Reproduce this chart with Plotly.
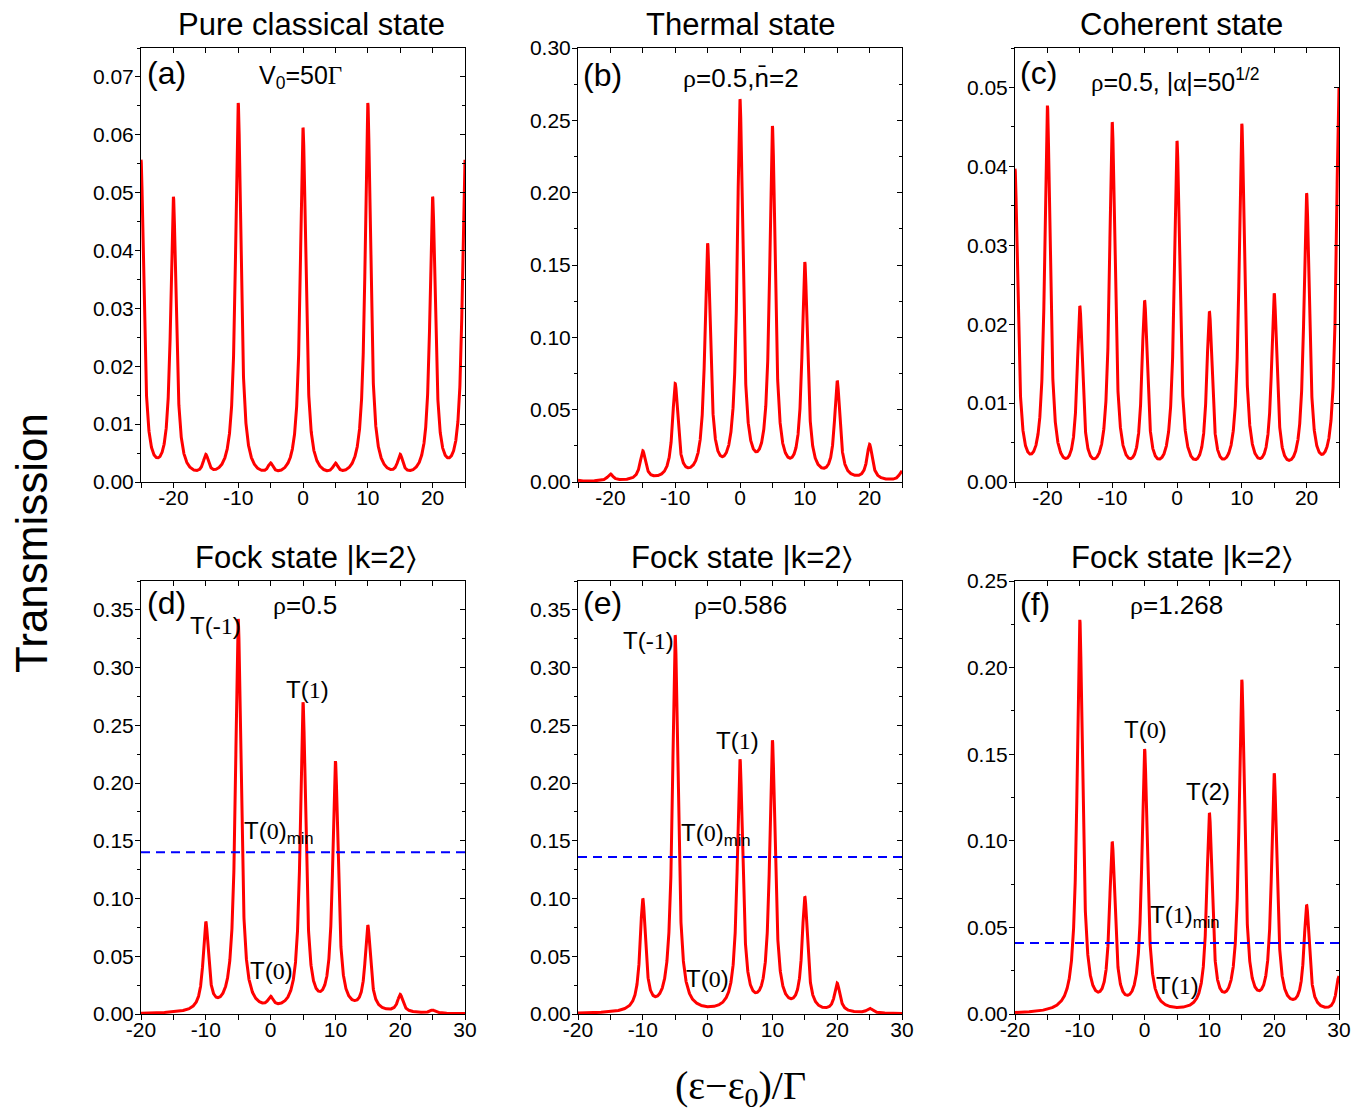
import numpy as np
import plotly.graph_objects as go

OFF = 8                      # browser body margin
W, H = 1371 - 2 * OFF, 1119 - 2 * OFF
HW = 0.5  # Lorentzian half width (in units of Gamma)

# ---------------- data (peak positions and observed peak heights) -------------
a_pos = [-25, -20, -15, -10, -5, 0, 5, 10, 15, 20, 25]
a_height = [0.0557, 0.0493, 0.0048, 0.0655, 0.0033, 0.0612, 0.0033, 0.0655, 0.0048, 0.0493, 0.0557]

b_pos = [-25, -20, -15, -10, -5, 0, 5, 10, 15, 20, 25]
b_height = [0.0013, 0.0056, 0.0216, 0.068, 0.165, 0.2645, 0.246, 0.152, 0.070, 0.026, 0.0077]

c_pos = [-25, -20, -15, -10, -5, 0, 5, 10, 15, 20, 25]
c_height = [0.0397, 0.0477, 0.0223, 0.0456, 0.0230, 0.0432, 0.0216, 0.0454, 0.0239, 0.0366, 0.0500]

d_pos = [-10, -5, 0, 5, 10, 15, 20, 25]
d_height = [0.080, 0.342, 0.0155, 0.270, 0.219, 0.077, 0.017, 0.0035]
d_dash = 0.140

e_pos = [-10, -5, 5, 10, 15, 20, 25]
e_height = [0.100, 0.328, 0.2207, 0.237, 0.1017, 0.0267, 0.005]
e_dash = 0.136

f_pos = [-10, -5, 0, 10, 15, 20, 25, 30]
f_height = [0.2276, 0.0994, 0.153, 0.116, 0.193, 0.139, 0.063, 0.022]
f_dash = 0.041

top_xticks = [-20, -10, 0, 10, 20]
bot_xticks = [-20, -10, 0, 10, 20, 30]
a_yticks = [0.00, 0.01, 0.02, 0.03, 0.04, 0.05, 0.06, 0.07]
b_yticks = [0.00, 0.05, 0.10, 0.15, 0.20, 0.25, 0.30]
c_yticks = [0.00, 0.01, 0.02, 0.03, 0.04, 0.05]
de_yticks = [0.00, 0.05, 0.10, 0.15, 0.20, 0.25, 0.30, 0.35]
f_yticks = [0.00, 0.05, 0.10, 0.15, 0.20, 0.25]

titles = ["Pure classical state", "Thermal state", "Coherent state",
          "Fock state |k=2\u232a", "Fock state |k=2\u232a", "Fock state |k=2\u232a"]

# ---------------- layout geometry (pixels in the screenshot) ----------------
cols = [(141, 465), (578, 902), (1015, 1339)]
rows = [(48, 482), (581, 1014)]

def px(x):
    return (x - OFF) / W

def py(y):
    return 1 - (y - OFF) / H

panels = [
    dict(pos=a_pos, h=a_height, xr=[-25, 25], yr=[0, 0.075], xt=top_xticks, yt=a_yticks, ystep=0.01, dash=None, r=0, c=0),
    dict(pos=b_pos, h=b_height, xr=[-25, 25], yr=[0, 0.30], xt=top_xticks, yt=b_yticks, ystep=0.05, dash=None, r=0, c=1),
    dict(pos=c_pos, h=c_height, xr=[-25, 25], yr=[0, 0.055], xt=top_xticks, yt=c_yticks, ystep=0.01, dash=None, r=0, c=2),
    dict(pos=d_pos, h=d_height, xr=[-20, 30], yr=[0, 0.375], xt=bot_xticks, yt=de_yticks, ystep=0.05, dash=d_dash, r=1, c=0),
    dict(pos=e_pos, h=e_height, xr=[-20, 30], yr=[0, 0.375], xt=bot_xticks, yt=de_yticks, ystep=0.05, dash=e_dash, r=1, c=1),
    dict(pos=f_pos, h=f_height, xr=[-20, 30], yr=[0, 0.25], xt=bot_xticks, yt=f_yticks, ystep=0.05, dash=f_dash, r=1, c=2),
]

def lor(d):
    return HW ** 2 / (d ** 2 + HW ** 2)

fig = go.Figure()
layout = {}
SANS = "Liberation Sans, Arial, sans-serif"
SERIF = "Liberation Serif, Times New Roman, serif"
tickfont = dict(family=SANS, size=21, color="black")

for i, p in enumerate(panels):
    n = i + 1
    sx = "" if n == 1 else str(n)
    m = n + 6
    pos = np.array(p["pos"], float)
    M = lor(pos[:, None] - pos[None, :])
    amps = np.linalg.solve(M, np.array(p["h"], float))
    xs = np.linspace(p["xr"][0], p["xr"][1], 4001)
    ys = (amps[None, :] * lor(xs[:, None] - pos[None, :])).sum(axis=1)
    fig.add_trace(go.Scatter(x=xs, y=ys, mode="lines", line=dict(color="#ff0000", width=3),
                             xaxis="x" + sx, yaxis="y" + sx, showlegend=False, hoverinfo="skip"))
    if p["dash"] is not None:
        fig.add_trace(go.Scatter(x=p["xr"], y=[p["dash"], p["dash"]], mode="lines",
                                 line=dict(color="#0000ff", width=2, dash="9px,6px"),
                                 xaxis="x" + sx, yaxis="y" + sx, showlegend=False, hoverinfo="skip"))
    # placeholder traces so the mirrored axes get drawn
    fig.add_trace(go.Scatter(x=[None], y=[None], mode="lines", xaxis="x%d" % m, yaxis="y" + sx,
                             showlegend=False, hoverinfo="skip"))
    fig.add_trace(go.Scatter(x=[None], y=[None], mode="lines", xaxis="x" + sx, yaxis="y%d" % m,
                             showlegend=False, hoverinfo="skip"))
    c0, c1 = cols[p["c"]]
    r0, r1 = rows[p["r"]]
    xdom = [px(c0), px(c1)]
    ydom = [py(r1), py(r0)]
    layout["xaxis" + sx] = dict(domain=xdom, anchor="y" + sx, range=p["xr"], tickvals=p["xt"],
                                ticktext=[str(v) for v in p["xt"]], ticks="outside", ticklen=5,
                                tickwidth=1, tickcolor="black", showline=True, linecolor="black",
                                linewidth=1, showgrid=False, zeroline=False, tickfont=tickfont,
                                automargin=False, ticklabelstandoff=-8,
                                minor=dict(dtick=5, tick0=0, ticks="outside", ticklen=5, tickcolor="black", showgrid=False))
    layout["yaxis" + sx] = dict(domain=ydom, anchor="x" + sx, range=p["yr"], tickvals=p["yt"],
                                ticktext=["%.2f" % v for v in p["yt"]], ticks="outside", ticklen=5,
                                tickwidth=1, tickcolor="black", showline=True, linecolor="black",
                                linewidth=1, showgrid=False, zeroline=False, tickfont=tickfont,
                                automargin=False, ticklabelstandoff=-3,
                                minor=dict(dtick=p["ystep"] / 2, tick0=0, ticks="outside", ticklen=3, tickcolor="black", showgrid=False))
    # mirrored axes with inward ticks
    layout["xaxis%d" % m] = dict(overlaying="x" + sx, anchor="y" + sx, side="top", range=p["xr"],
                                 dtick=5, tick0=0, ticks="inside", ticklen=5, tickcolor="black",
                                 showticklabels=False, showline=True, linecolor="black", linewidth=1,
                                 showgrid=False, zeroline=False, automargin=False)
    layout["yaxis%d" % m] = dict(overlaying="y" + sx, anchor="x" + sx, side="right", range=p["yr"],
                                 dtick=p["ystep"], tick0=0, ticks="inside", ticklen=5, tickcolor="black",
                                 showticklabels=False, showline=True, linecolor="black", linewidth=1,
                                 showgrid=False, zeroline=False, automargin=False,
                                 minor=dict(dtick=p["ystep"] / 2, tick0=0, ticks="inside", ticklen=3, tickcolor="black"))

ann = []

def add(text, x, y, size, xanchor="center", family=SANS, angle=0):
    ann.append(dict(text=text, x=px(x), y=py(y), xref="paper", yref="paper", showarrow=False,
                    xanchor=xanchor, yanchor="middle", textangle=angle,
                    font=dict(family=family, size=size, color="black")))

def serif(s):
    return '<span style="font-family:Liberation Serif, Times New Roman, serif">%s</span>' % s

title_pos = [(311, 25), (741, 25), (1181, 25), (305, 557), (741, 557), (1181, 557)]
for t, (x, y) in zip(titles, title_pos):
    add(t, x, y, 31)

labels = ["(a)", "(b)", "(c)", "(d)", "(e)", "(f)"]
lab_pos = [(145, 73), (581, 75), (1018, 73), (145, 603), (581, 603), (1018, 604)]
for t, (x, y) in zip(labels, lab_pos):
    add(t, x, y, 32, xanchor="left")

add("V<sub>0</sub>=50" + serif("\u0393"), 300, 77, 25)
add(serif("\u03c1") + "=0.5,n\u0304=2", 741, 78, 26)
add(serif("\u03c1") + "=0.5, |" + serif("\u03b1") + "|=50<sup>1/2</sup>", 1175, 80, 25)
add(serif("\u03c1") + "=0.5", 305, 605, 26)
add(serif("\u03c1") + "=0.586", 740, 605, 26)
add(serif("\u03c1") + "=1.268", 1176, 605, 26)

TS = 24
add("T(" + serif("-1") + ")", 215, 625, TS)
add("T(" + serif("1") + ")", 307, 689, TS)
add("T(" + serif("0") + ")<sub>min</sub>", 242, 832, TS, xanchor="left")
add("T(" + serif("0") + ")", 271, 970, TS)

add("T(" + serif("-1") + ")", 648, 640, TS)
add("T(" + serif("1") + ")", 737, 740, TS)
add("T(" + serif("0") + ")<sub>min</sub>", 679, 834, TS, xanchor="left")
add("T(" + serif("0") + ")", 707, 978, TS)

add("T(" + serif("0") + ")", 1145, 729, TS)
add("T(2)", 1208, 791, TS)
add("T(" + serif("1") + ")<sub>min</sub>", 1148, 916, TS, xanchor="left")
add("T(" + serif("1") + ")", 1177, 985, TS)

add("Transmission", 31, 543, 44, angle=-90)
add("(\u03b5\u2212\u03b5<sub>0</sub>)/\u0393", 740, 1088, 40, family=SERIF)

fig.update_layout(**layout)
fig.update_layout(template="none", width=W, height=H, margin=dict(l=0, r=0, t=0, b=0, pad=0),
                  paper_bgcolor="white", plot_bgcolor="white", annotations=ann,
                  showlegend=False)
fig.write_html("out.html")
